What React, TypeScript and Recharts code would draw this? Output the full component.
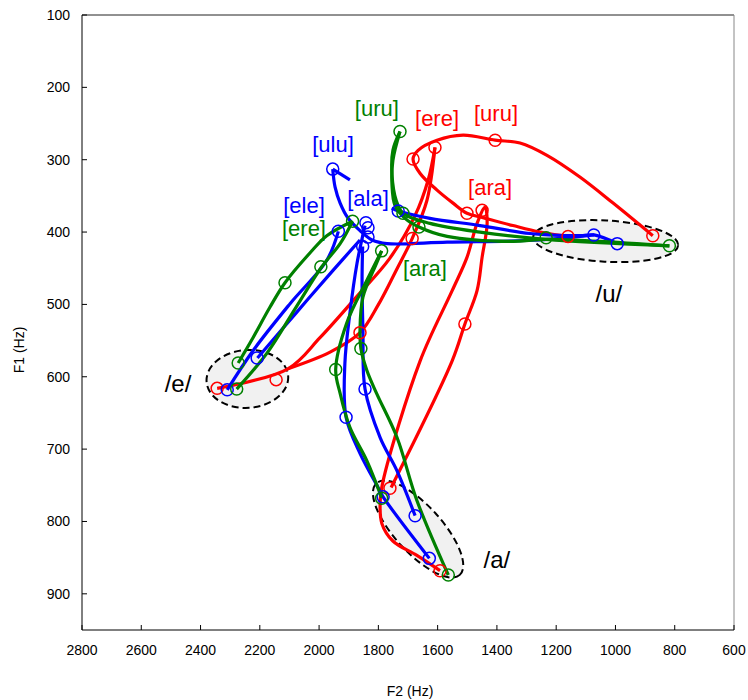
import React from 'react';
import {
  ComposedChart,
  XAxis,
  YAxis,
  Line,
  Scatter,
  ReferenceArea,
  ReferenceDot,
  ReferenceLine,
  Label,
} from 'recharts';

type Pt = [number, number]; // [F2, F1] in Hz

const xTicks = [2800, 2600, 2400, 2200, 2000, 1800, 1600, 1400, 1200, 1000, 800, 600];
const yTicks = [100, 200, 300, 400, 500, 600, 700, 800, 900];

// red tracks
const redEreUp: Pt[] = [[2344, 616], [2105, 589], [1997, 546], [1879, 492], [1761, 436], [1676, 377], [1632, 328], [1609, 283]];
const redEreDown: Pt[] = [[1609, 283], [1636, 356], [1686, 409], [1740, 453], [1801, 501], [1862, 539], [1963, 566], [2105, 589]];
const redUru: Pt[] = [
  [874, 405], [1008, 360], [1120, 324], [1231, 294], [1322, 277], [1406, 273], [1514, 266], [1602, 273],
  [1666, 287], [1683, 299], [1659, 319], [1602, 342], [1548, 360], [1501, 374], [1447, 380], [1346, 391],
  [1255, 400], [1160, 406],
];
const redAra: Pt[] = [
  [1592, 868], [1670, 847], [1751, 827], [1788, 803], [1794, 774], [1784, 744], [1659, 578], [1551, 481],
  [1501, 435], [1467, 388], [1440, 366], [1433, 388], [1450, 435], [1467, 481], [1508, 527], [1551, 578],
  [1757, 753],
];

// green tracks
const greenUruIn: Pt[] = [[818, 419], [1234, 410], [1457, 400], [1626, 388], [1717, 374], [1740, 356], [1754, 321], [1751, 287], [1727, 261]];
const greenUruOut: Pt[] = [[1727, 261], [1751, 301], [1754, 335], [1744, 363], [1710, 381], [1663, 393], [1568, 406], [1346, 413], [1234, 410], [818, 419]];
const greenEreIn: Pt[] = [[2278, 617], [2177, 568], [2078, 504], [1991, 448], [1929, 416], [1887, 385]];
const greenEreOut: Pt[] = [[1887, 385], [1974, 405], [2031, 429], [2115, 470], [2166, 504], [2223, 546], [2273, 581]];
const greenAraIn: Pt[] = [[1789, 426], [1839, 467], [1907, 526], [1944, 590], [1929, 623], [1896, 670], [1839, 716], [1789, 767]];
const greenAraOut: Pt[] = [[1789, 426], [1806, 443], [1852, 490], [1862, 536], [1859, 561], [1839, 591], [1806, 623], [1737, 684], [1670, 771], [1564, 874]];

// blue tracks
const blueEleIn: Pt[] = [[2310, 618], [2223, 564], [2098, 499], [1974, 439], [1935, 399]];
const blueEleOut: Pt[] = [[2208, 574], [2078, 512], [1953, 453], [1862, 411]];
const blueAlaIn: Pt[] = [[1845, 391], [1872, 443], [1896, 512], [1913, 582], [1909, 656], [1862, 706], [1801, 753], [1784, 766], [1628, 851]];
const blueAlaOut: Pt[] = [[1853, 420], [1855, 467], [1852, 536], [1845, 617], [1794, 684], [1737, 730], [1676, 792]];
const blueUluIn: Pt[] = [[1755, 367], [1733, 371], [1626, 381], [1457, 391], [1288, 402], [1120, 405], [1072, 404], [994, 416]];
const blueUluOut: Pt[] = [[1072, 404], [1255, 411], [1568, 414], [1771, 416], [1821, 411], [1862, 398], [1902, 381], [1929, 360], [1946, 338], [1954, 313]];
const blueUluHook: Pt[] = [[1954, 313], [1896, 328]];

// measurement points
const redDots: Pt[] = [
  [2344, 616], [2145, 604], [1862, 539], [1686, 409], [1609, 283], [874, 405], [1406, 273], [1683, 299],
  [1501, 374], [1160, 406], [1450, 370], [1508, 527], [1761, 754], [1592, 868],
];
const greenDots: Pt[] = [
  [1727, 261], [1717, 374], [1663, 393], [1234, 408], [818, 419], [1887, 385], [1994, 448], [2115, 470],
  [2273, 581], [2278, 617], [1789, 426], [1944, 590], [1859, 561], [1789, 768], [1564, 874],
];
const blueDots: Pt[] = [
  [1954, 313], [1733, 371], [1073, 404], [994, 416], [1935, 399], [2209, 574], [2310, 618], [1842, 387],
  [1835, 394], [1835, 407], [1853, 420], [1845, 617], [1909, 656], [1784, 766], [1676, 792], [1628, 851],
];

// vowel regions: F2 range, F1 range, tilt in degrees
const vowelAreas = [
  { name: 'e', f2: [2104, 2380], f1: [563, 643], tilt: -4 },
  { name: 'u', f2: [788, 1278], f1: [384, 441], tilt: 3.3 },
  { name: 'a', f2: [1457, 1875], f1: [778, 843], tilt: 47.7 },
];

const RED = '#ff0000';
const BLUE = '#0000ff';
const GREEN = '#008000';
const FONT = '"Liberation Sans", Arial, Helvetica, sans-serif';

const wordLabels = [
  { text: '[uru]', f2: 1805, f1: 229, color: GREEN },
  { text: '[ere]', f2: 1602, f1: 243, color: RED },
  { text: '[uru]', f2: 1403, f1: 236, color: RED },
  { text: '[ulu]', f2: 1953, f1: 279, color: BLUE },
  { text: '[ala]', f2: 1835, f1: 353, color: BLUE },
  { text: '[ele]', f2: 2051, f1: 363, color: BLUE },
  { text: '[ere]', f2: 2051, f1: 395, color: GREEN },
  { text: '[ara]', f2: 1423, f1: 339, color: RED },
  { text: '[ara]', f2: 1643, f1: 450, color: GREEN },
];
const vowelLabels = [
  { text: '/e/', f2: 2476, f1: 609 },
  { text: '/u/', f2: 1022, f1: 485 },
  { text: '/a/', f2: 1400, f1: 852 },
];

const tracks = [
  { key: 'redEreUp', pts: redEreUp, color: RED },
  { key: 'redEreDown', pts: redEreDown, color: RED },
  { key: 'redUru', pts: redUru, color: RED },
  { key: 'redAra', pts: redAra, color: RED },
  { key: 'blueEleIn', pts: blueEleIn, color: BLUE },
  { key: 'blueEleOut', pts: blueEleOut, color: BLUE },
  { key: 'blueAlaIn', pts: blueAlaIn, color: BLUE },
  { key: 'blueAlaOut', pts: blueAlaOut, color: BLUE },
  { key: 'blueUluIn', pts: blueUluIn, color: BLUE },
  { key: 'blueUluOut', pts: blueUluOut, color: BLUE },
  { key: 'blueUluHook', pts: blueUluHook, color: BLUE },
  { key: 'greenUruIn', pts: greenUruIn, color: GREEN },
  { key: 'greenUruOut', pts: greenUruOut, color: GREEN },
  { key: 'greenEreIn', pts: greenEreIn, color: GREEN },
  { key: 'greenEreOut', pts: greenEreOut, color: GREEN },
  { key: 'greenAraIn', pts: greenAraIn, color: GREEN },
  { key: 'greenAraOut', pts: greenAraOut, color: GREEN },
];

const toRows = (pts: Pt[]) => pts.map(([x, y]) => ({ x, y }));

// centripetal catmull-rom, so the tracks can loop back on themselves
const catmullRom = (context: any) => {
  let pts: number[][] = [];
  return {
    areaStart() {},
    areaEnd() {},
    lineStart() {
      pts = [];
    },
    point(x: number, y: number) {
      pts.push([+x, +y]);
    },
    lineEnd() {
      const n = pts.length;
      if (!n) return;
      context.moveTo(pts[0][0], pts[0][1]);
      for (let i = 0; i < n - 1; i++) {
        const p0 = pts[i > 0 ? i - 1 : i];
        const p1 = pts[i];
        const p2 = pts[i + 1];
        const p3 = pts[i + 2 < n ? i + 2 : i + 1];
        const l01 = Math.hypot(p1[0] - p0[0], p1[1] - p0[1]);
        const l12 = Math.hypot(p2[0] - p1[0], p2[1] - p1[1]);
        const l23 = Math.hypot(p3[0] - p2[0], p3[1] - p2[1]);
        const a01 = Math.sqrt(l01);
        const a12 = Math.sqrt(l12);
        const a23 = Math.sqrt(l23);
        let c1x = p1[0];
        let c1y = p1[1];
        let c2x = p2[0];
        let c2y = p2[1];
        if (a01 > 1e-6) {
          const a = 2 * l01 + 3 * a01 * a12 + l12;
          const m = 3 * a01 * (a01 + a12);
          c1x = (p1[0] * a - p0[0] * l12 + p2[0] * l01) / m;
          c1y = (p1[1] * a - p0[1] * l12 + p2[1] * l01) / m;
        }
        if (a23 > 1e-6) {
          const b = 2 * l23 + 3 * a23 * a12 + l12;
          const m = 3 * a23 * (a23 + a12);
          c2x = (p2[0] * b + p1[0] * l23 - p3[0] * l12) / m;
          c2y = (p2[1] * b + p1[1] * l23 - p3[1] * l12) / m;
        }
        context.bezierCurveTo(c1x, c1y, c2x, c2y, p2[0], p2[1]);
      }
    },
  };
};

const ring = (color: string) => (p: any) => (
  <circle cx={p.cx} cy={p.cy} r={6} fill="none" stroke={color} strokeWidth={1.5} />
);

const ellipseShape = (tilt: number) => (p: any) => {
  const w = Math.abs(p.width);
  const h = Math.abs(p.height);
  const cx = p.x + p.width / 2;
  const cy = p.y + p.height / 2;
  return (
    <ellipse
      cx={cx}
      cy={cy}
      rx={w / 2}
      ry={h / 2}
      transform={`rotate(${tilt} ${cx} ${cy})`}
      fill="#f1f1f1"
      stroke="#000"
      strokeWidth={2}
      strokeDasharray="7 4"
    />
  );
};

const textShape = (text: string, color: string, size: number) => (p: any) => (
  <text
    x={p.cx}
    y={p.cy}
    textAnchor="middle"
    dominantBaseline="central"
    fill={color}
    fontSize={size}
    fontFamily={FONT}
  >
    {text}
  </text>
);

const tickStyle = { fill: '#000', fontSize: 14, fontFamily: FONT };

export default function App() {
  return (
    <div style={{ position: 'absolute', left: 0, top: 0, background: '#fff' }}>
      <ComposedChart width={748} height={700} margin={{ top: 15, right: 14, bottom: 0, left: 0 }}>
        <XAxis
          type="number"
          dataKey="x"
          domain={[600, 2800]}
          reversed
          ticks={xTicks}
          interval={0}
          allowDataOverflow
          tickSize={-5}
          tickMargin={20}
          height={70}
          stroke="#000"
          tick={tickStyle}
        >
          <Label
            content={() => (
              <text x={410} y={696} textAnchor="middle" fontSize={14} fontFamily={FONT} fill="#000">
                F2 (Hz)
              </text>
            )}
          />
        </XAxis>
        <YAxis
          type="number"
          dataKey="y"
          domain={[100, 950]}
          reversed
          ticks={yTicks}
          interval={0}
          allowDataOverflow
          tickSize={-5}
          tickMargin={17}
          width={82}
          stroke="#000"
          tick={tickStyle}
        >
          <Label
            content={() => (
              <text
                x={19}
                y={350}
                transform="rotate(-90 19 350)"
                textAnchor="middle"
                dominantBaseline="central"
                fontSize={14}
                fontFamily={FONT}
                fill="#000"
              >
                F1 (Hz)
              </text>
            )}
          />
        </YAxis>

        <ReferenceLine y={100} stroke="#222" />
        <ReferenceLine x={600} stroke="#888" />

        {vowelAreas.map((v) => (
          <ReferenceArea
            key={v.name}
            x1={v.f2[0]}
            x2={v.f2[1]}
            y1={v.f1[0]}
            y2={v.f1[1]}
            shape={ellipseShape(v.tilt)}
          />
        ))}

        {tracks.map((t) => (
          <Line
            key={t.key}
            data={toRows(t.pts)}
            dataKey="y"
            type={catmullRom as any}
            stroke={t.color}
            strokeWidth={3.2}
            dot={false}
            activeDot={false}
            isAnimationActive={false}
          />
        ))}

        <Scatter data={toRows(redDots)} dataKey="y" shape={ring(RED)} isAnimationActive={false} />
        <Scatter data={toRows(blueDots)} dataKey="y" shape={ring(BLUE)} isAnimationActive={false} />
        <Scatter data={toRows(greenDots)} dataKey="y" shape={ring(GREEN)} isAnimationActive={false} />

        {wordLabels.map((l, i) => (
          <ReferenceDot key={`w${i}`} x={l.f2} y={l.f1} r={0} shape={textShape(l.text, l.color, 22)} />
        ))}
        {vowelLabels.map((l) => (
          <ReferenceDot key={l.text} x={l.f2} y={l.f1} r={0} shape={textShape(l.text, '#000', 24)} />
        ))}
      </ComposedChart>
    </div>
  );
}
